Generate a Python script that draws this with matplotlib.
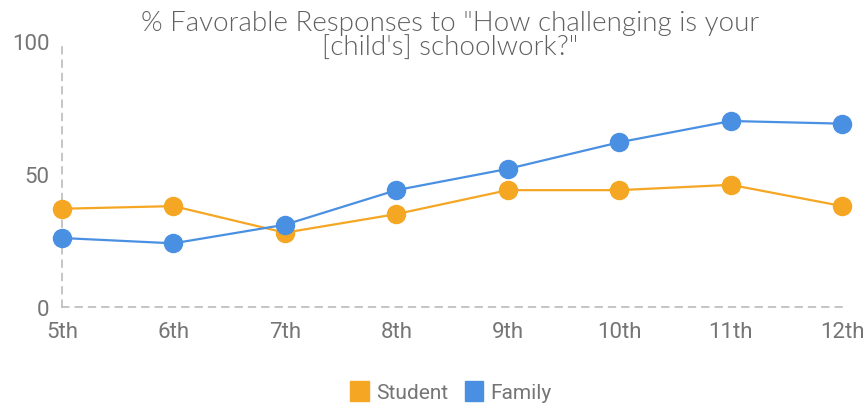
import matplotlib
matplotlib.use("Agg")
import matplotlib.pyplot as plt
from matplotlib.patches import Patch

grades = ["5th", "6th", "7th", "8th", "9th", "10th", "11th", "12th"]
student = [37, 38, 28, 35, 44, 44, 46, 38]
family = [26, 24, 31, 44, 52, 62, 70, 69]
yticks = [0, 50, 100]
title = "% Favorable Responses to \"How challenging is your\n[child's] schoolwork?\""

orange = "#F5A623"
blue = "#4A90E2"
gray = "#757575"

fig = plt.figure(figsize=(8.67, 4.06), dpi=100)
ax = fig.add_axes([0.0715, 0.241, 0.9, 0.655])
x = list(range(len(grades)))
ax.plot(x, student, color=orange, lw=1.6, marker="o", ms=13, zorder=3, clip_on=False)
ax.plot(x, family, color=blue, lw=1.6, marker="o", ms=13, zorder=4, clip_on=False)

ax.set_xlim(0, len(grades) - 1)
ax.set_ylim(0, 100)
ax.set_xticks(x)
ax.set_xticklabels(grades)
ax.set_yticks(yticks)
for s in ["top", "right"]:
    ax.spines[s].set_visible(False)
for s in ["left", "bottom"]:
    ax.spines[s].set_color("#bbbbbb")
    ax.spines[s].set_linestyle((0, (4, 4)))
    ax.spines[s].set_linewidth(1.2)
ax.tick_params(axis="x", length=0, labelsize=16, labelcolor=gray, pad=10)
ax.tick_params(axis="y", length=0, labelsize=16, labelcolor=gray, pad=9)
for lab in ax.get_xticklabels() + ax.get_yticklabels():
    lab.set_family("Roboto")

fig.text(0.519, 0.972, title, ha="center", va="top", fontsize=20, color="#606060",
         family="Lato", fontweight=300, linespacing=0.95)

handles = [Patch(color=orange, label="Student"), Patch(color=blue, label="Family")]
leg = fig.legend(handles=handles, loc="center", bbox_to_anchor=(0.52, 0.033), ncol=2,
                 frameon=False, fontsize=15, handlelength=0.9, handleheight=1.1,
                 handletextpad=0.35, columnspacing=0.8)
for t in leg.get_texts():
    t.set_color(gray)
    t.set_family("Roboto")

fig.savefig("out.png", dpi=100)
